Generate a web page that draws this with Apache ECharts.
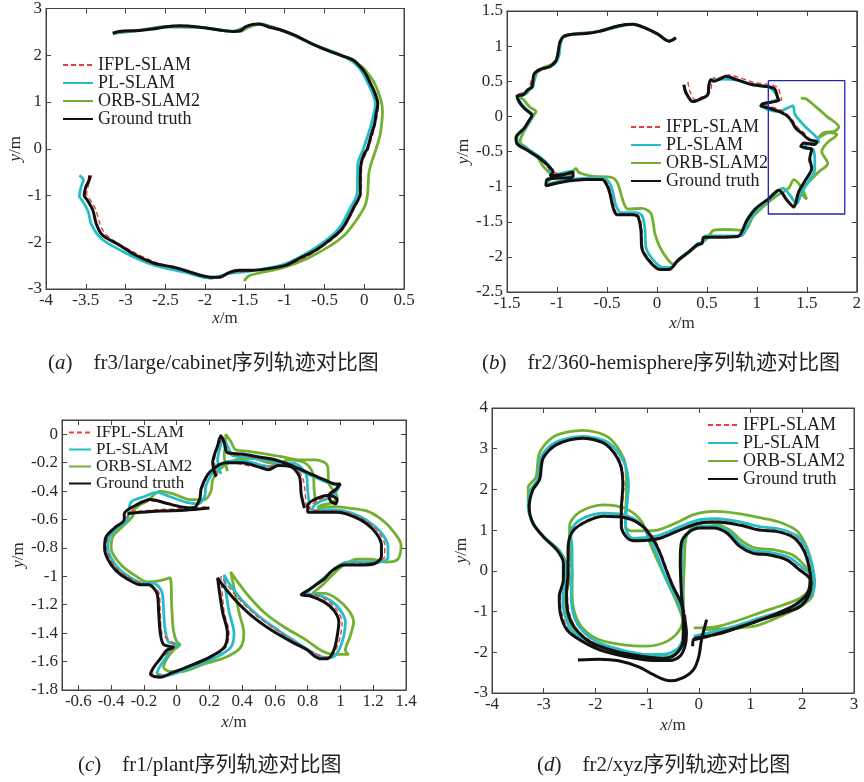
<!DOCTYPE html>
<html>
<head>
<meta charset="utf-8">
<script src="https://cdn.jsdelivr.net/npm/echarts@6/dist/echarts.min.js"></script>
<style>
html, body { margin: 0; padding: 0; background: #fff; }
#main { width: 864px; height: 782px; }
</style>
</head>
<body>
<div id="main"></div>
<script>
// series names, same in all four panels
var names = ['IFPL-SLAM', 'PL-SLAM', 'ORB-SLAM2', 'Ground truth'];

// (a) fr3/large/cabinet
var gtA = [[-3.16,2.47],[-3.08,2.51],[-2.83,2.53],[-2.66,2.56],[-2.49,2.61],[-2.32,2.63],[-2.07,2.60],[-1.82,2.54],[-1.65,2.51],[-1.55,2.53],[-1.49,2.61],[-1.40,2.66],[-1.32,2.67],[-1.19,2.60],[-1.03,2.53],[-0.86,2.42],[-0.65,2.24],[-0.40,2.06],[-0.23,1.96],[-0.13,1.89],[-0.04,1.74],[0.02,1.60],[0.08,1.39],[0.13,1.21],[0.17,0.96],[0.15,0.75],[0.13,0.53],[0.08,0.25],[0.04,0],[0,-0.11],[-0.04,-0.32],[-0.05,-0.68],[-0.05,-0.96],[-0.08,-1.10],[-0.13,-1.25],[-0.19,-1.46],[-0.29,-1.74],[-0.44,-1.96],[-0.61,-2.17],[-0.82,-2.35],[-0.98,-2.49],[-1.19,-2.56],[-1.40,-2.60],[-1.57,-2.60],[-1.70,-2.65],[-1.82,-2.75],[-1.91,-2.75],[-2.07,-2.70],[-2.24,-2.61],[-2.41,-2.53],[-2.62,-2.46],[-2.74,-2.38],[-2.91,-2.24],[-3.08,-2.06],[-3.25,-1.90],[-3.31,-1.81],[-3.37,-1.60],[-3.41,-1.32],[-3.48,-1.10],[-3.52,-1.00],[-3.50,-0.82],[-3.46,-0.68],[-3.45,-0.57]];
var ifplA = [[-3.16,2.47],[-2.83,2.53],[-2.49,2.61],[-2.07,2.60],[-1.65,2.51],[-1.49,2.61],[-1.32,2.67],[-1.03,2.53],[-0.65,2.24],[-0.23,1.96],[-0.03,1.73],[0.09,1.38],[0.18,0.95],[0.14,0.52],[0.05,-0.01],[-0.03,-0.33],[-0.04,-0.97],[-0.12,-1.26],[-0.28,-1.75],[-0.60,-2.18],[-0.97,-2.50],[-1.40,-2.61],[-1.70,-2.66],[-1.91,-2.76],[-2.24,-2.61],[-2.62,-2.43],[-2.91,-2.20],[-3.22,-1.88],[-3.30,-1.70],[-3.33,-1.56],[-3.38,-1.28],[-3.45,-1.08],[-3.49,-0.98],[-3.47,-0.80],[-3.42,-0.56]];
var plA = [[-3.16,2.47],[-2.83,2.53],[-2.49,2.61],[-2.07,2.60],[-1.65,2.51],[-1.49,2.61],[-1.32,2.67],[-1.03,2.53],[-0.65,2.24],[-0.24,1.96],[-0.07,1.74],[0.05,1.39],[0.14,0.96],[0.09,0.53],[-0.01,0],[-0.08,-0.32],[-0.09,-0.96],[-0.17,-1.25],[-0.33,-1.73],[-0.65,-2.16],[-1.02,-2.48],[-1.41,-2.61],[-1.71,-2.67],[-1.93,-2.77],[-2.26,-2.64],[-2.64,-2.49],[-2.95,-2.27],[-3.30,-1.93],[-3.43,-1.62],[-3.47,-1.34],[-3.54,-1.12],[-3.58,-1.01],[-3.56,-0.82],[-3.53,-0.67],[-3.58,-0.57]];
var orbA = [[-3.16,2.47],[-2.83,2.53],[-2.49,2.61],[-2.07,2.60],[-1.65,2.51],[-1.55,2.51],[-1.48,2.58],[-1.32,2.66],[-1.03,2.53],[-0.65,2.24],[-0.23,1.96],[-0.02,1.74],[0.06,1.58],[0.13,1.40],[0.19,1.15],[0.22,0.96],[0.23,0.78],[0.22,0.55],[0.20,0.30],[0.15,0.00],[0.10,-0.25],[0.06,-0.50],[0.05,-0.75],[0.04,-1.00],[0.01,-1.22],[-0.05,-1.40],[-0.12,-1.58],[-0.25,-1.85],[-0.45,-2.10],[-0.72,-2.35],[-1.03,-2.55],[-1.30,-2.65],[-1.45,-2.72],[-1.51,-2.83]];

// (b) fr2/360-hemisphere
var gtB = [[0.27,0.45],[0.29,0.34],[0.36,0.21],[0.44,0.25],[0.51,0.31],[0.52,0.44],[0.54,0.52],[0.57,0.50],[0.63,0.53],[0.69,0.57],[0.80,0.52],[0.96,0.45],[1.12,0.42],[1.18,0.39],[1.21,0.26],[1.22,0.23],[1.14,0.20],[1.06,0.18],[1.04,0.15],[1.12,0.12],[1.22,0.07],[1.30,0.01],[1.35,-0.07],[1.39,-0.17],[1.45,-0.24],[1.52,-0.33],[1.60,-0.36],[1.58,-0.40],[1.47,-0.38],[1.44,-0.43],[1.50,-0.45],[1.55,-0.47],[1.53,-0.60],[1.55,-0.74],[1.49,-0.90],[1.42,-1.07],[1.37,-1.29],[1.30,-1.19],[1.22,-1.05],[1.12,-1.17],[0.99,-1.31],[0.90,-1.48],[0.81,-1.71],[0.60,-1.72],[0.47,-1.72],[0.45,-1.81],[0.40,-1.83],[0.32,-1.93],[0.21,-2.05],[0.12,-2.18],[0.03,-2.18],[-0.07,-2.07],[-0.15,-1.88],[-0.16,-1.62],[-0.19,-1.43],[-0.25,-1.40],[-0.40,-1.40],[-0.44,-1.29],[-0.47,-1.10],[-0.50,-0.98],[-0.55,-0.90],[-0.71,-0.90],[-0.97,-0.94],[-1.11,-0.99],[-1.10,-0.90],[-0.84,-0.86],[-0.84,-0.79],[-0.91,-0.82],[-1.07,-0.85],[-1.04,-0.79],[-1.09,-0.70],[-1.17,-0.60],[-1.30,-0.48],[-1.40,-0.39],[-1.41,-0.30],[-1.33,-0.17],[-1.28,-0.06],[-1.25,0.02],[-1.28,0.06],[-1.33,0.12],[-1.38,0.21],[-1.40,0.29],[-1.34,0.31],[-1.29,0.38],[-1.25,0.42],[-1.23,0.60],[-1.17,0.67],[-1.07,0.71],[-1.01,0.79],[-0.99,0.90],[-0.97,1.06],[-0.93,1.14],[-0.84,1.17],[-0.71,1.18],[-0.58,1.21],[-0.38,1.29],[-0.24,1.31],[-0.12,1.26],[0.01,1.17],[0.12,1.07],[0.19,1.12]];
var ifplB = [[0.31,0.49],[0.33,0.36],[0.38,0.24],[0.46,0.28],[0.53,0.34],[0.55,0.47],[0.57,0.55],[0.60,0.54],[0.66,0.57],[0.72,0.59],[0.83,0.55],[0.98,0.48],[1.14,0.45],[1.21,0.41],[1.24,0.28],[1.25,0.24],[1.16,0.22],[1.08,0.19],[1.06,0.16],[1.13,0.14],[1.24,0.09],[1.31,0.02],[1.36,-0.06],[1.41,-0.16],[1.47,-0.23],[1.53,-0.32],[1.60,-0.35],[1.58,-0.41],[1.47,-0.39],[1.45,-0.43],[1.51,-0.45],[1.54,-0.48],[1.52,-0.61],[1.54,-0.75],[1.48,-0.91],[1.41,-1.08],[1.36,-1.27],[1.30,-1.17],[1.23,-1.04],[1.13,-1.16],[1.00,-1.30],[0.91,-1.47],[0.82,-1.70],[0.61,-1.71],[0.48,-1.71],[0.46,-1.80],[0.41,-1.82],[0.33,-1.92],[0.22,-2.04],[0.13,-2.17],[0.04,-2.17],[-0.06,-2.06],[-0.14,-1.87],[-0.15,-1.61],[-0.18,-1.42],[-0.24,-1.39],[-0.39,-1.39],[-0.43,-1.28],[-0.46,-1.09],[-0.49,-0.97],[-0.54,-0.89],[-0.71,-0.89],[-0.97,-0.93],[-1.11,-0.98],[-1.10,-0.90],[-0.84,-0.86],[-1.04,-0.79],[-1.17,-0.60],[-1.30,-0.48],[-1.40,-0.39],[-1.41,-0.30],[-1.33,-0.17],[-1.25,0.02],[-1.33,0.12],[-1.40,0.29],[-1.29,0.38],[-1.23,0.60],[-1.07,0.71],[-0.99,0.90],[-0.97,1.06],[-0.84,1.17],[-0.58,1.21],[-0.24,1.31],[0.01,1.17],[0.12,1.07],[0.19,1.12]];
var plB = [[0.27,0.45],[0.29,0.34],[0.36,0.21],[0.44,0.25],[0.51,0.31],[0.52,0.44],[0.54,0.52],[0.63,0.53],[0.80,0.52],[0.96,0.45],[1.12,0.42],[1.21,0.26],[1.14,0.20],[1.04,0.15],[1.22,0.07],[1.36,0.15],[1.38,0.03],[1.48,-0.14],[1.60,-0.30],[1.62,-0.36],[1.50,-0.40],[1.47,-0.45],[1.56,-0.47],[1.58,-0.62],[1.58,-0.76],[1.52,-0.92],[1.45,-1.08],[1.40,-1.24],[1.33,-1.12],[1.26,-1.02],[1.15,-1.15],[1.02,-1.30],[0.93,-1.47],[0.84,-1.70],[0.62,-1.70],[0.49,-1.70],[0.46,-1.79],[0.41,-1.81],[0.33,-1.91],[0.22,-2.03],[0.14,-2.15],[0.06,-2.15],[-0.04,-2.04],[-0.11,-1.86],[-0.12,-1.60],[-0.15,-1.41],[-0.21,-1.37],[-0.36,-1.37],[-0.41,-1.27],[-0.44,-1.08],[-0.47,-0.96],[-0.53,-0.88],[-0.70,-0.88],[-0.96,-0.92],[-1.10,-0.97],[-1.09,-0.89],[-0.84,-0.85],[-0.85,-0.78],[-1.06,-0.84],[-1.08,-0.70],[-1.16,-0.59],[-1.29,-0.47],[-1.39,-0.38],[-1.40,-0.30],[-1.32,-0.17],[-1.27,-0.06],[-1.24,0.02],[-1.27,0.06],[-1.32,0.12],[-1.37,0.21],[-1.39,0.29],[-1.33,0.31],[-1.28,0.38],[-1.24,0.42],[-1.22,0.60],[-1.16,0.67],[-1.06,0.71],[-1.00,0.79],[-0.98,0.90],[-0.96,1.06],[-0.93,1.14],[-0.84,1.17],[-0.58,1.21],[-0.24,1.31],[0.01,1.17],[0.12,1.07],[0.19,1.12]];
var orbB = [[1.44,0.26],[1.49,0.25],[1.58,0.15],[1.70,0.00],[1.82,-0.15],[1.78,-0.21],[1.67,-0.23],[1.62,-0.30],[1.73,-0.23],[1.80,-0.26],[1.70,-0.38],[1.65,-0.50],[1.71,-0.67],[1.62,-0.79],[1.52,-0.93],[1.44,-1.07],[1.50,-1.18],[1.44,-1.00],[1.37,-0.90],[1.32,-1.02],[1.19,-1.14],[1.06,-1.29],[0.96,-1.43],[0.88,-1.62],[0.67,-1.61],[0.57,-1.62],[0.50,-1.74],[0.37,-1.88],[0.26,-2.00],[0.16,-2.10],[0.11,-2.04],[0.03,-1.86],[-0.02,-1.67],[-0.06,-1.38],[-0.15,-1.31],[-0.29,-1.32],[-0.33,-1.24],[-0.37,-1.05],[-0.40,-0.93],[-0.45,-0.87],[-0.65,-0.85],[-0.78,-0.80],[-0.81,-0.74],[-0.86,-0.81],[-1.01,-0.86],[-1.10,-0.93],[-1.06,-0.85],[-1.14,-0.71],[-1.20,-0.57],[-1.30,-0.45],[-1.37,-0.36],[-1.34,-0.24],[-1.29,-0.12],[-1.23,0.02],[-1.21,0.07],[-1.27,0.13],[-1.33,0.23],[-1.37,0.28],[-1.31,0.32],[-1.27,0.39],[-1.23,0.50],[-1.20,0.62],[-1.14,0.69],[-1.04,0.75],[-0.98,0.87],[-0.97,1.06],[-0.93,1.14],[-0.84,1.17],[-0.71,1.18],[-0.58,1.21],[-0.38,1.29],[-0.24,1.31],[-0.12,1.26],[0.01,1.17],[0.12,1.07],[0.19,1.12]];
// blue box marking the enlarged region in (b)
var boxB = [[1.115,0.51],[1.88,0.51],[1.88,-1.39],[1.115,-1.39],[1.115,0.51]];

// (c) fr1/plant  ('-' breaks the line)
var gtC = [[0.20,-0.52],[0.05,-0.535],[-0.10,-0.54],[-0.22,-0.55],[-0.30,-0.56],'-',
  [0.24,-0.30],[0.22,-0.20],[0.25,-0.08],[0.27,-0.01],[0.29,-0.06],[0.31,-0.13],[0.40,-0.14],[0.50,-0.16],[0.60,-0.18],[0.70,-0.22],[0.80,-0.27],[0.90,-0.32],[0.97,-0.35],[1.00,-0.35],[0.97,-0.39],[0.93,-0.43],[0.94,-0.47],[0.97,-0.49],[0.98,-0.46],[0.93,-0.43],[0.86,-0.45],[0.80,-0.50],[0.80,-0.55],[0.88,-0.55],[0.98,-0.55],[1.08,-0.58],[1.16,-0.63],[1.22,-0.70],[1.25,-0.78],[1.25,-0.86],[1.21,-0.91],[1.12,-0.92],[1.02,-0.92],[0.95,-0.96],[0.90,-1.02],[0.85,-1.06],[0.80,-1.10],[0.76,-1.13],[0.82,-1.14],[0.90,-1.18],[0.96,-1.24],[0.99,-1.32],[0.98,-1.42],[0.96,-1.52],[0.92,-1.58],[0.88,-1.58],[0.84,-1.56],[0.80,-1.52],[0.70,-1.46],[0.58,-1.38],[0.46,-1.28],[0.36,-1.17],[0.28,-1.06],[0.25,-1.01],[0.26,-1.10],[0.28,-1.25],[0.31,-1.40],[0.29,-1.50],[0.20,-1.57],[0.08,-1.63],[-0.03,-1.68],[-0.10,-1.71],[-0.16,-1.69],[-0.14,-1.64],[-0.10,-1.58],[-0.06,-1.52],[-0.02,-1.50],[-0.08,-1.48],[-0.10,-1.40],[-0.11,-1.25],[-0.12,-1.12],[-0.17,-1.06],[-0.22,-1.06],[-0.30,-1.02],[-0.37,-0.96],[-0.42,-0.88],[-0.44,-0.80],[-0.43,-0.72],[-0.38,-0.66],[-0.32,-0.60],[-0.32,-0.56],[-0.25,-0.50],[-0.16,-0.46],[-0.08,-0.48],[0.02,-0.51],[0.10,-0.52],[0.14,-0.46],[0.15,-0.38],[0.20,-0.27],[0.30,-0.20],[0.40,-0.20],[0.50,-0.23],[0.56,-0.25],[0.62,-0.22],[0.70,-0.23],[0.75,-0.30],[0.76,-0.42],[0.78,-0.52]];
var ifplC = [[0.18,-0.51],[0.04,-0.525],[-0.10,-0.53],[-0.21,-0.54],[-0.29,-0.55],'-',
  [0.25,-0.29],[0.23,-0.19],[0.26,-0.07],[0.28,-0.02],[0.32,-0.14],[0.41,-0.15],[0.51,-0.17],[0.61,-0.19],[0.71,-0.23],[0.81,-0.28],[0.91,-0.33],[0.98,-0.37],[0.94,-0.44],[0.87,-0.46],[0.81,-0.52],[0.89,-0.54],[0.99,-0.54],[1.09,-0.57],[1.18,-0.63],[1.24,-0.70],[1.27,-0.78],[1.27,-0.86],[1.22,-0.90],[1.12,-0.91],[1.03,-0.91],[0.96,-0.95],[0.91,-1.01],[0.86,-1.06],[0.78,-1.12],[0.84,-1.13],[0.92,-1.17],[0.98,-1.24],[1.01,-1.32],[1.00,-1.42],[0.97,-1.52],[0.93,-1.57],[0.86,-1.55],[0.72,-1.46],[0.60,-1.37],[0.48,-1.27],[0.38,-1.16],[0.30,-1.05],[0.27,-1.00],[0.29,-1.25],[0.32,-1.40],[0.30,-1.50],[0.21,-1.57],[0.09,-1.63],[-0.02,-1.68],[-0.09,-1.70],[-0.15,-1.68],[-0.09,-1.57],[-0.01,-1.49],[-0.09,-1.40],[-0.10,-1.25],[-0.11,-1.11],[-0.21,-1.05],[-0.29,-1.01],[-0.36,-0.95],[-0.41,-0.87],[-0.43,-0.80],[-0.42,-0.72],[-0.37,-0.66],[-0.31,-0.59],[-0.24,-0.50],[-0.15,-0.47],[0.03,-0.51],[0.11,-0.51],[0.16,-0.37],[0.21,-0.26],[0.31,-0.20],[0.51,-0.23],[0.63,-0.22],[0.71,-0.23],[0.77,-0.31],[0.79,-0.51]];
var plC = [[0.27,-0.28],[0.25,-0.18],[0.27,-0.07],[0.28,-0.03],[0.31,-0.08],[0.34,-0.15],[0.42,-0.16],[0.52,-0.18],[0.62,-0.20],[0.72,-0.24],[0.82,-0.29],[0.92,-0.34],[0.99,-0.37],[0.97,-0.41],[0.93,-0.45],[0.88,-0.47],[0.83,-0.52],[0.83,-0.54],[0.92,-0.53],[1.02,-0.54],[1.12,-0.58],[1.20,-0.64],[1.26,-0.71],[1.29,-0.79],[1.29,-0.87],[1.24,-0.90],[1.14,-0.90],[1.04,-0.90],[0.97,-0.94],[0.91,-1.00],[0.86,-1.05],[0.81,-1.10],[0.79,-1.12],[0.86,-1.13],[0.94,-1.17],[1.00,-1.24],[1.03,-1.32],[1.02,-1.42],[0.99,-1.52],[0.95,-1.57],[0.90,-1.57],[0.85,-1.55],[0.74,-1.47],[0.62,-1.38],[0.50,-1.28],[0.40,-1.17],[0.32,-1.05],[0.29,-0.99],[0.30,-1.10],[0.32,-1.25],[0.35,-1.40],[0.33,-1.50],[0.24,-1.57],[0.11,-1.63],[0.00,-1.68],[-0.07,-1.70],[-0.12,-1.68],[-0.10,-1.63],[-0.06,-1.56],[-0.03,-1.50],[0.01,-1.48],[-0.05,-1.46],[-0.07,-1.38],[-0.08,-1.24],[-0.09,-1.11],[-0.14,-1.05],[-0.20,-1.05],[-0.28,-1.01],[-0.35,-0.95],[-0.40,-0.87],[-0.42,-0.80],[-0.41,-0.72],[-0.36,-0.66],[-0.30,-0.60],[-0.28,-0.48],[-0.20,-0.44],[-0.12,-0.41],[-0.04,-0.44],[0.06,-0.48],[0.13,-0.49],[0.17,-0.44],[0.18,-0.36],[0.23,-0.26],[0.32,-0.19],[0.42,-0.19],[0.52,-0.22],[0.58,-0.23],[0.64,-0.20],[0.73,-0.21],[0.79,-0.28],[0.80,-0.40],[0.81,-0.50]];
var orbC = [[0.31,-0.26],[0.29,-0.15],[0.30,-0.05],[0.30,0.00],[0.33,-0.05],[0.36,-0.11],[0.44,-0.12],[0.55,-0.14],[0.65,-0.16],[0.75,-0.18],[0.85,-0.18],[0.92,-0.22],[0.93,-0.35],[0.98,-0.44],[0.95,-0.48],[0.88,-0.50],[0.86,-0.52],[0.95,-0.51],[1.05,-0.52],[1.16,-0.54],[1.25,-0.60],[1.32,-0.68],[1.37,-0.78],[1.35,-0.88],[1.28,-0.90],[1.18,-0.88],[1.10,-0.88],[1.02,-0.92],[0.96,-0.98],[0.90,-1.05],[0.85,-1.10],[0.83,-1.12],[0.90,-1.12],[0.98,-1.16],[1.05,-1.24],[1.08,-1.32],[1.06,-1.42],[1.03,-1.52],[1.05,-1.55],[0.96,-1.55],[0.88,-1.52],[0.78,-1.44],[0.66,-1.36],[0.54,-1.26],[0.44,-1.14],[0.36,-1.02],[0.33,-0.97],[0.35,-1.08],[0.38,-1.25],[0.41,-1.40],[0.39,-1.50],[0.30,-1.57],[0.16,-1.62],[0.03,-1.67],[-0.04,-1.67],[-0.08,-1.64],[-0.06,-1.58],[-0.02,-1.52],[0.02,-1.48],[0.00,-1.46],[-0.02,-1.38],[-0.03,-1.22],[-0.04,-1.01],[-0.10,-1.03],[-0.18,-1.04],[-0.26,-0.99],[-0.33,-0.93],[-0.38,-0.86],[-0.40,-0.80],[-0.39,-0.72],[-0.34,-0.66],[-0.27,-0.58],[-0.25,-0.52],[-0.18,-0.47],[-0.10,-0.40],[-0.02,-0.42],[0.08,-0.46],[0.17,-0.46],[0.21,-0.40],[0.22,-0.32],[0.27,-0.24],[0.36,-0.18],[0.46,-0.17],[0.56,-0.20],[0.62,-0.21],[0.68,-0.18],[0.78,-0.20],[0.83,-0.27],[0.84,-0.40],[0.85,-0.50]];

// (d) fr2/xyz  ('-' breaks the line)
var gtD = [[-2.34,-2.19],[-1.93,-2.17],[-1.55,-2.21],[-1.14,-2.37],[-0.88,-2.55],[-0.56,-2.70],[-0.30,-2.62],[-0.10,-2.42],[0.00,-2.10],[0.05,-1.70],[0.15,-1.20],'-',
  [-0.12,-1.85],[-0.10,-1.68],[0.10,-1.62],[0.45,-1.53],[0.80,-1.38],[1.20,-1.20],[1.65,-1.03],[1.95,-0.88],[2.12,-0.62],[2.17,-0.30],[2.13,0.10],[2.03,0.50],[1.83,0.82],[1.50,0.97],[1.18,1.00],[0.80,1.12],[0.35,1.20],[0.00,1.17],[-0.37,1.00],[-0.75,0.80],[-1.00,0.75],[-1.27,0.74],[-1.42,0.86],[-1.50,1.10],[-1.50,1.50],[-1.47,2.10],[-1.53,2.65],[-1.79,3.10],[-2.24,3.26],[-2.75,3.10],[-3.01,2.77],[-3.08,2.24],[-3.21,1.99],[-3.28,1.58],[-3.21,1.17],[-3.01,0.84],[-2.75,0.52],[-2.62,0.19],[-2.62,-0.22],[-2.70,-0.63],[-2.68,-1.04],[-2.55,-1.45],[-2.30,-1.70],[-1.92,-1.94],[-1.40,-2.11],[-0.88,-2.20],[-0.56,-2.20],[-0.37,-2.10],[-0.27,-1.86],[-0.24,-1.53],[-0.27,-1.20],[-0.34,-0.80],[-0.50,-0.39],[-0.63,0.02],[-0.75,0.43],[-0.88,0.76],[-1.08,1.09],[-1.40,1.30],[-1.85,1.34],[-2.24,1.17],[-2.46,0.93],[-2.53,0.52],[-2.53,-0.06],[-2.56,-0.55],[-2.53,-1.04],[-2.40,-1.40],[-2.10,-1.75],[-1.60,-1.98],[-1.10,-2.10],[-0.70,-2.15],[-0.45,-2.05],[-0.30,-1.70],[-0.30,-1.20],[-0.34,-0.50],[-0.36,0.20],[-0.34,0.68],[-0.21,0.93],[0.02,1.05],[0.28,1.05],[0.54,0.93],[0.79,0.60],[1.05,0.43],[1.37,0.39],[1.70,0.27],[1.95,0.02],[2.15,-0.22],[2.10,-0.55],[1.90,-0.80],[1.60,-1.00],[1.10,-1.25],[0.60,-1.45],[0.20,-1.60],[-0.12,-1.70]];
var ifplD = [[-0.10,-1.64],[0.45,-1.51],[1.20,-1.18],[1.95,-0.86],[2.14,-0.60],[2.19,-0.30],[2.15,0.10],[2.05,0.52],[1.85,0.84],[1.50,0.99],[1.18,1.02],[0.80,1.14],[0.35,1.22],[0.00,1.19],[-0.37,1.02],[-0.75,0.82],[-1.27,0.76],[-1.44,0.88],[-1.48,1.10],[-1.48,1.50],[-1.45,2.10],[-1.51,2.67],[-1.79,3.12],[-2.24,3.28],[-2.75,3.12],[-3.03,2.77],[-3.10,2.24],[-3.22,1.99],[-3.29,1.58],[-3.20,1.15],[-3.00,0.82],[-2.73,0.50],[-2.60,0.17],[-2.60,-0.22],[-2.68,-0.63],[-2.65,-1.04],[-2.52,-1.45],[-2.27,-1.70],[-1.90,-1.92],[-1.40,-2.09],[-0.88,-2.18],[-0.56,-2.18],[-0.37,-2.08],[-0.27,-1.84],[-0.25,-1.20],[-0.32,-0.80],[-0.48,-0.39],[-0.61,0.02],[-0.73,0.43],[-0.86,0.78],[-1.08,1.12],[-1.40,1.32],[-1.85,1.36],[-2.24,1.19],[-2.48,0.93],[-2.51,0.52],[-2.51,-0.06],[-2.54,-0.55],[-2.50,-1.04],[-2.38,-1.40],[-2.08,-1.73],[-1.60,-1.96],[-1.10,-2.08],[-0.70,-2.13],[-0.45,-2.03],[-0.30,-1.68],[-0.32,-0.50],[-0.34,0.20],[-0.32,0.70],[-0.19,0.95],[0.02,1.07],[0.28,1.07],[0.54,0.95],[0.79,0.62],[1.05,0.45],[1.37,0.41],[1.70,0.29],[1.97,0.04],[2.17,-0.22],[2.12,-0.55],[1.90,-0.78],[1.60,-0.98],[1.10,-1.23],[0.60,-1.43],[0.20,-1.58],[-0.12,-1.68]];
var plD = [[-0.10,-1.60],[0.45,-1.45],[0.80,-1.32],[1.20,-1.15],[1.65,-0.98],[1.98,-0.82],[2.18,-0.58],[2.24,-0.28],[2.20,0.10],[2.10,0.50],[1.90,0.86],[1.52,1.04],[1.20,1.08],[0.80,1.20],[0.35,1.28],[0.00,1.25],[-0.37,1.08],[-0.75,0.88],[-1.00,0.82],[-1.27,0.80],[-1.38,0.92],[-1.42,1.10],[-1.40,1.50],[-1.36,2.10],[-1.45,2.68],[-1.75,3.15],[-2.24,3.30],[-2.78,3.15],[-3.05,2.80],[-3.12,2.24],[-3.25,1.99],[-3.30,1.58],[-3.20,1.17],[-3.00,0.84],[-2.72,0.52],[-2.58,0.19],[-2.56,-0.22],[-2.63,-0.63],[-2.60,-1.04],[-2.47,-1.45],[-2.20,-1.72],[-1.85,-1.90],[-1.35,-2.05],[-0.88,-2.13],[-0.60,-2.12],[-0.40,-2.00],[-0.30,-1.80],[-0.28,-1.45],[-0.30,-1.20],[-0.38,-0.80],[-0.55,-0.39],[-0.70,0.02],[-0.82,0.43],[-0.95,0.80],[-1.12,1.15],[-1.45,1.38],[-1.85,1.42],[-2.30,1.25],[-2.48,0.95],[-2.45,0.52],[-2.45,-0.06],[-2.47,-0.55],[-2.43,-1.04],[-2.30,-1.40],[-2.00,-1.72],[-1.50,-1.94],[-1.00,-2.05],[-0.70,-2.05],[-0.40,-1.90],[-0.28,-1.50],[-0.30,-1.00],[-0.32,-0.50],[-0.33,0.20],[-0.30,0.72],[-0.17,0.98],[0.05,1.10],[0.30,1.10],[0.56,0.98],[0.81,0.66],[1.07,0.49],[1.40,0.45],[1.75,0.33],[2.02,0.06],[2.24,-0.20],[2.18,-0.55],[1.98,-0.78],[1.65,-0.96],[1.15,-1.20],[0.65,-1.40],[0.25,-1.55]];
var orbD = [[-0.10,-1.40],[0.30,-1.38],[0.80,-1.20],[1.20,-1.02],[1.60,-0.85],[1.95,-0.68],[2.15,-0.45],[2.22,-0.20],[2.17,0.20],[2.08,0.60],[1.90,0.98],[1.55,1.20],[1.20,1.30],[0.80,1.40],[0.30,1.46],[-0.10,1.38],[-0.40,1.20],[-0.80,1.00],[-1.05,0.98],[-1.32,0.98],[-1.42,1.10],[-1.42,1.40],[-1.40,1.90],[-1.40,2.20],[-1.45,2.75],[-1.75,3.28],[-2.24,3.45],[-2.80,3.30],[-3.08,2.90],[-3.15,2.30],[-3.30,2.05],[-3.30,1.58],[-3.20,1.15],[-3.00,0.84],[-2.70,0.50],[-2.55,0.15],[-2.50,-0.22],[-2.58,-0.63],[-2.56,-1.04],[-2.40,-1.45],[-2.10,-1.75],[-1.70,-1.92],[-1.30,-2.02],[-0.90,-2.08],[-0.60,-2.10],[-0.40,-1.95],[-0.32,-1.70],[-0.30,-1.30],[-0.42,-0.80],[-0.60,-0.30],[-0.78,0.20],[-0.95,0.70],[-1.10,1.20],[-1.40,1.52],[-1.85,1.62],[-2.30,1.45],[-2.50,1.10],[-2.50,0.52],[-2.45,-0.06],[-2.45,-0.55],[-2.40,-1.04],[-2.25,-1.40],[-1.95,-1.68],[-1.45,-1.82],[-1.00,-1.85],[-0.60,-1.72],[-0.35,-1.40],[-0.30,-1.00],[-0.30,-0.50],[-0.28,0.20],[-0.25,0.80],[-0.12,1.08],[0.10,1.18],[0.35,1.15],[0.60,1.00],[0.85,0.72],[1.10,0.56],[1.45,0.52],[1.80,0.40],[2.05,0.12],[2.22,-0.20],[2.20,-0.60],[2.00,-0.85],[1.60,-1.10],[1.10,-1.35],[0.50,-1.42],[0.10,-1.45]];

// axis ranges per panel: [xmin, xmax, xstep, ymin, ymax, ystep]
var rangesA = [-4, 0.5, 0.5, -3, 3, 1];
var rangesB = [-1.5, 2, 0.5, -2.5, 1.5, 0.5];
var rangesC = [-0.7, 1.4, 0.2, -1.8, 0.1, 0.2];
var rangesD = [-4, 3, 1, -3, 4, 1];

var captions = [
    '({i|a})    fr3/large/cabinet序列轨迹对比图',
    '({i|b})    fr2/360-hemisphere序列轨迹对比图',
    '({i|c})    fr1/plant序列轨迹对比图',
    '({i|d})    fr2/xyz序列轨迹对比图'
];

var serif = "'Liberation Serif', 'Times New Roman', serif";
var axisColor = '#444';
var textColor = '#2a2a2a';

var styles = {
    'IFPL-SLAM':    { color: '#e8413c', width: 1.4, type: [5, 3], z: 4 },
    'PL-SLAM':      { color: '#25bec8', width: 2.8, type: 'solid', z: 2 },
    'ORB-SLAM2':    { color: '#73b032', width: 2.8, type: 'solid', z: 1 },
    'Ground truth': { color: '#111111', width: 3, type: 'solid', z: 5 }
};

var grids = [
    { left: 46, top: 7, width: 358, height: 282 },
    { left: 507, top: 11, width: 355, height: 281 },
    { left: 62, top: 420, width: 344, height: 270 },
    { left: 492, top: 408, width: 362, height: 285 }
];

function axisPair(dir, gi, min, max, step, useNice, nameGap) {
    var isX = dir === 'x';
    var common = {
        type: 'value', gridIndex: gi, min: min, max: max,
        splitLine: { show: false },
        axisLine: { show: true, onZero: false, lineStyle: { color: axisColor, width: 1 } },
        axisTick: { show: true, inside: true, length: 5, lineStyle: { color: axisColor } }
    };
    if (useNice) {
        common.minInterval = step;
        common.maxInterval = step;
        common.splitNumber = Math.round((max - min) / step);
    } else {
        common.interval = step;
    }
    var main = Object.assign({}, common, {
        position: isX ? 'bottom' : 'left',
        axisLabel: {
            show: true, margin: isX ? 3 : 4,
            fontFamily: serif, fontSize: 17, color: textColor,
            showMinLabel: !(useNice && isX), showMaxLabel: !(useNice && !isX)
        },
        name: isX ? '{i|x}/m' : '{i|y}/m',
        nameLocation: 'middle',
        nameGap: nameGap,
        nameRotate: isX ? 0 : 90,
        nameTextStyle: {
            fontFamily: serif, fontSize: 17, color: textColor,
            rich: { i: { fontFamily: serif, fontSize: 17, fontStyle: 'italic', color: textColor } }
        }
    });
    var mirror = Object.assign({}, common, {
        position: isX ? 'top' : 'right',
        axisLabel: { show: false }
    });
    return [main, mirror];
}

var allRanges = [rangesA, rangesB, rangesC, rangesD];
var xGaps = [21, 23, 24, 24];
var yGaps = [5, 29, 31, 6];
var xAxes = [], yAxes = [];
allRanges.forEach(function (r, gi) {
    var nice = gi === 2;
    xAxes = xAxes.concat(axisPair('x', gi, r[0], r[1], r[2], nice, xGaps[gi]));
    yAxes = yAxes.concat(axisPair('y', gi, r[3], r[4], r[5], nice, yGaps[gi]));
});

var panelData = [
    { 'IFPL-SLAM': ifplA, 'PL-SLAM': plA, 'ORB-SLAM2': orbA, 'Ground truth': gtA },
    { 'IFPL-SLAM': ifplB, 'PL-SLAM': plB, 'ORB-SLAM2': orbB, 'Ground truth': gtB },
    { 'IFPL-SLAM': ifplC, 'PL-SLAM': plC, 'ORB-SLAM2': orbC, 'Ground truth': gtC },
    { 'IFPL-SLAM': ifplD, 'PL-SLAM': plD, 'ORB-SLAM2': orbD, 'Ground truth': gtD }
];

var series = [];
panelData.forEach(function (pd, gi) {
    ['ORB-SLAM2', 'PL-SLAM', 'IFPL-SLAM', 'Ground truth'].forEach(function (n) {
        var s = styles[n];
        series.push({
            name: n, type: 'line', xAxisIndex: gi * 2, yAxisIndex: gi * 2,
            data: pd[n], showSymbol: false, symbol: 'none', smooth: 0.3,
            connectNulls: false, z: s.z, silent: true,
            lineStyle: { color: s.color, width: s.width, type: s.type },
            itemStyle: { color: s.color }
        });
    });
});
series.push({
    name: 'box', type: 'line', xAxisIndex: 2, yAxisIndex: 2, data: boxB,
    showSymbol: false, symbol: 'none', silent: true, z: 6,
    lineStyle: { color: '#2323b0', width: 1.3 }
});

// legend boxes: [left, top, itemWidth, rowHeight, fontSize]
var legendPos = [[62, 56, 30, 17.3, 18], [630, 118, 30, 17, 18], [68, 424, 22, 15, 17], [707, 416, 30, 17.7, 18]];
var legends = legendPos.map(function (p) {
    return {
        left: p[0], top: p[1], orient: 'vertical', padding: 0,
        itemWidth: p[2], itemHeight: 10, itemGap: 0, selectedMode: false,
        data: names,
        itemStyle: { opacity: 0 },
        textStyle: { fontFamily: serif, fontSize: p[4], color: '#1e1e1e', lineHeight: p[3] }
    };
});

var capPos = [[48, 353], [482, 353], [78, 755], [537, 755]];
var graphics = captions.map(function (t, i) {
    return {
        type: 'text', left: capPos[i][0], top: capPos[i][1],
        style: {
            text: t, fill: '#222',
            font: "21px 'Liberation Serif', 'Noto Sans CJK SC', serif",
            rich: { i: { fontStyle: 'italic', fontSize: 21, fontFamily: serif, fill: '#222' } }
        }
    };
});

var chart = echarts.init(document.getElementById('main'));
chart.setOption({
    backgroundColor: '#ffffff',
    animation: false,
    grid: grids.map(function (g) { return Object.assign({ show: true, borderColor: axisColor, borderWidth: 1, backgroundColor: 'transparent' }, g); }),
    xAxis: xAxes,
    yAxis: yAxes,
    legend: legends,
    series: series,
    graphic: graphics
});
</script>
</body>
</html>
